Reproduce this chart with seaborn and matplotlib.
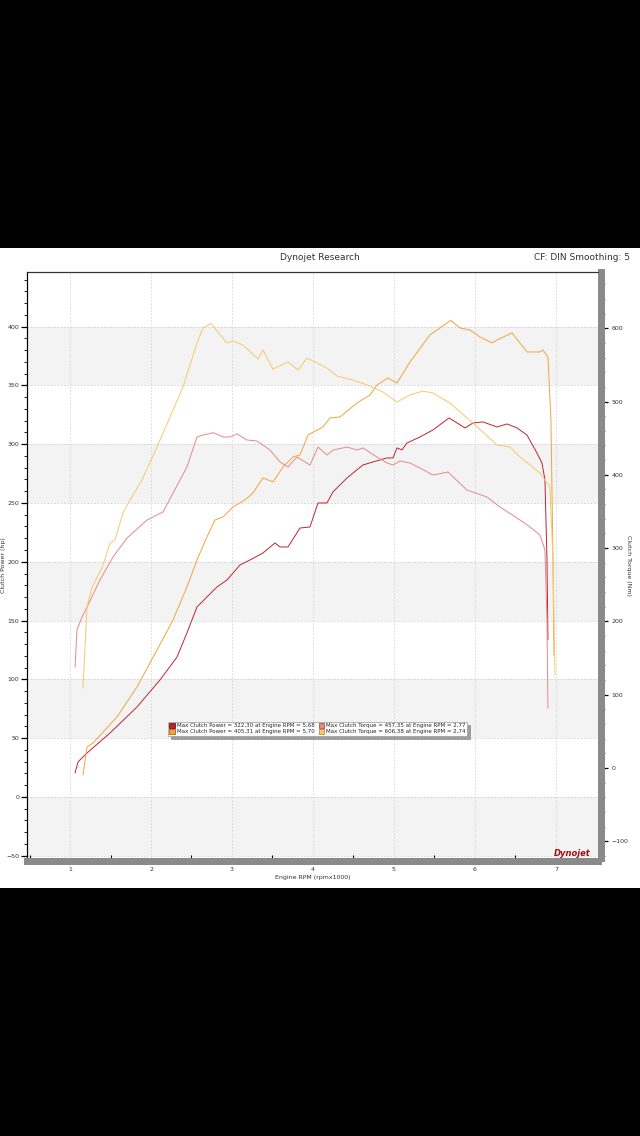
import numpy as np
import pandas as pd
import matplotlib
matplotlib.use("Agg")
import matplotlib.pyplot as plt
from matplotlib.patches import Patch, Rectangle
from matplotlib.ticker import MultipleLocator, FixedLocator
import seaborn as sns

# ---------------- data ----------------
rpm_power1 = [1.062, 1.099, 1.21, 1.494, 1.827, 2.111, 2.321, 2.444, 2.568, 2.691, 2.815, 2.938,
              3.099, 3.222, 3.383, 3.531, 3.593, 3.691, 3.840, 3.963, 4.062, 4.173, 4.247, 4.420,
              4.617, 4.741, 4.914, 4.988, 5.037, 5.099, 5.160, 5.321, 5.481, 5.68, 5.877, 5.975,
              6.099, 6.272, 6.395, 6.519, 6.642, 6.765, 6.827, 6.864, 6.889, 6.901]
hp_power1 = [20.4, 29.8, 37.4, 54.4, 76.5, 99.5, 119.0, 139.5, 161.6, 170.1, 178.6, 184.5,
             197.3, 201.5, 207.5, 216.0, 212.6, 212.6, 228.7, 229.6, 250.0, 250.0, 259.4, 271.3,
             282.3, 284.9, 288.3, 288.3, 296.8, 295.1, 301.0, 306.1, 312.1, 322.3, 313.8, 318.0,
             318.9, 314.6, 317.2, 313.8, 307.8, 292.5, 284.0, 269.6, 201.5, 133.5]

rpm_power2 = [1.160, 1.210, 1.284, 1.580, 1.827, 2.074, 2.272, 2.444, 2.568, 2.691, 2.790, 2.889,
              3.012, 3.160, 3.259, 3.383, 3.506, 3.630, 3.753, 3.840, 3.938, 4.123, 4.210, 4.333,
              4.543, 4.704, 4.790, 4.926, 5.037, 5.198, 5.444, 5.70, 5.815, 5.938, 6.062, 6.210,
              6.272, 6.457, 6.642, 6.802, 6.840, 6.901, 6.938, 6.963, 6.975]
hp_power2 = [18.7, 42.5, 45.9, 68.0, 93.5, 125.0, 150.5, 178.6, 201.5, 221.1, 235.5, 238.1,
             246.6, 252.6, 258.5, 271.3, 267.9, 280.6, 289.1, 290.8, 307.8, 314.6, 322.3, 323.1,
             335.0, 341.8, 350.3, 356.3, 352.0, 369.9, 392.9, 405.3, 398.8, 397.1, 391.2, 386.1,
             388.6, 394.6, 378.4, 378.4, 380.1, 374.1, 320.6, 201.5, 120.7]

rpm_torque1 = [1.062, 1.086, 1.148, 1.210, 1.370, 1.531, 1.704, 1.951, 2.148, 2.272, 2.358, 2.444,
               2.568, 2.642, 2.77, 2.889, 2.975, 3.062, 3.185, 3.309, 3.469, 3.593, 3.691, 3.802,
               3.963, 4.062, 4.173, 4.247, 4.420, 4.543, 4.617, 4.790, 4.914, 4.988, 5.074, 5.198,
               5.321, 5.481, 5.667, 5.901, 6.148, 6.309, 6.556, 6.679, 6.802, 6.864, 6.889, 6.901]
nm_torque1 = [137.8, 188.3, 206.0, 219.6, 256.5, 287.9, 313.8, 338.3, 349.2, 375.2, 392.9, 410.6,
              451.6, 454.3, 457.4, 451.6, 451.6, 455.7, 447.5, 446.1, 433.8, 417.5, 410.6, 424.3,
              413.4, 437.9, 427.0, 433.8, 437.9, 433.8, 436.6, 424.3, 416.1, 413.4, 418.8, 416.1,
              409.3, 399.7, 403.8, 379.3, 369.7, 356.1, 338.3, 328.8, 317.9, 297.4, 201.9, 81.9]

rpm_torque2 = [1.160, 1.210, 1.272, 1.395, 1.494, 1.556, 1.654, 1.741, 1.889, 2.074, 2.395, 2.568,
               2.642, 2.74, 2.938, 3.012, 3.136, 3.321, 3.383, 3.506, 3.691, 3.815, 3.926, 4.173,
               4.296, 4.494, 4.704, 4.864, 5.037, 5.198, 5.358, 5.481, 5.691, 5.975, 6.272, 6.432,
               6.556, 6.802, 6.926, 6.963, 6.988]
nm_torque2 = [109.1, 219.6, 246.9, 272.9, 307.0, 311.1, 347.9, 365.6, 392.9, 437.9, 519.8, 579.8,
              600.3, 606.4, 579.8, 582.5, 577.1, 558.0, 570.3, 544.3, 553.9, 543.0, 559.3, 545.7,
              534.8, 529.3, 521.1, 513.0, 499.3, 508.9, 514.3, 511.6, 497.9, 470.7, 440.7, 437.9,
              424.3, 402.5, 383.4, 283.8, 126.9]

legend_labels = [
    "Max Clutch Power = 322,30 at Engine RPM = 5,68",
    "Max Clutch Power = 405,31 at Engine RPM = 5,70",
    "Max Clutch Torque = 457,35 at Engine RPM = 2,77",
    "Max Clutch Torque = 606,38 at Engine RPM = 2,74",
]
x_ticks = [1, 2, 3, 4, 5, 6, 7]
hp_ticks = [-50, 0, 50, 100, 150, 200, 250, 300, 350, 400]
nm_ticks = [-100, 0, 100, 200, 300, 400, 500, 600]

c_red = "#bc2530"
c_orange = "#f0a43c"
c_pink = "#e38a8a"
c_yellow = "#f6c86c"

# ---------------- figure ----------------
sns.set_style("white")
plt.rcParams['font.family'] = ['DejaVu Sans']

fig = plt.figure(figsize=(6.4, 11.36), dpi=100, facecolor="black")
bg = Rectangle((0, 1 - 888 / 1136), 1, (888 - 248) / 1136,
               transform=fig.transFigure, facecolor="white", edgecolor="none", zorder=-10)
fig.patches.append(bg)

ax = fig.add_axes([27 / 640, 1 - 858 / 1136, (598 - 27) / 640, (858 - 272) / 1136])
ax.set_facecolor("white")
ax.set_xlim(0.469, 7.519)
ax.set_ylim(-51.9, 446.4)

for lo in [350, 250, 150, 50, -50]:
    ax.axhspan(lo, lo + 50, color="#f3f3f3", zorder=0, lw=0)
for yv in hp_ticks:
    ax.axhline(yv, color="#cfcfcf", lw=0.6, ls=(0, (2, 2)), zorder=0.5)
for xv in x_ticks:
    ax.axvline(xv, color="#d6d6d6", lw=0.6, ls=(0, (2, 2)), zorder=0.5)

df_p1 = pd.DataFrame({"rpm": rpm_power1, "val": hp_power1})
df_p2 = pd.DataFrame({"rpm": rpm_power2, "val": hp_power2})
df_t1 = pd.DataFrame({"rpm": rpm_torque1, "val": nm_torque1})
df_t2 = pd.DataFrame({"rpm": rpm_torque2, "val": nm_torque2})

sns.lineplot(data=df_p1, x="rpm", y="val", ax=ax, color=c_red, lw=0.7, sort=False, estimator=None)
sns.lineplot(data=df_p2, x="rpm", y="val", ax=ax, color=c_orange, lw=0.7, sort=False, estimator=None)

ax2 = ax.twinx()
ax2.set_ylim(-122.8, 676.7)
sns.lineplot(data=df_t1, x="rpm", y="val", ax=ax2, color=c_pink, lw=0.7, sort=False, estimator=None)
sns.lineplot(data=df_t2, x="rpm", y="val", ax=ax2, color=c_yellow, lw=0.7, sort=False, estimator=None)

# axes styling
ax.set_xticks(x_ticks)
ax.set_xticklabels([str(v) for v in x_ticks])
ax.xaxis.set_minor_locator(FixedLocator([0.5, 1.5, 2.5, 3.5, 4.5, 5.5, 6.5]))
ax.set_yticks(hp_ticks)
ax.yaxis.set_minor_locator(MultipleLocator(10))
ax.tick_params(axis="x", which="major", length=0, labelsize=4.5, labelcolor="#333333", pad=4)
ax.tick_params(axis="x", which="minor", length=4, width=0.8, direction="in", color="black", bottom=True)
ax.tick_params(axis="y", which="major", length=4, width=0.9, color="black", labelsize=4.5,
               labelcolor="#333333", pad=1.5, left=True)
ax.tick_params(axis="y", which="minor", length=2.5, width=0.6, color="black", left=True)

ax2.set_yticks(nm_ticks)
ax2.yaxis.set_minor_locator(MultipleLocator(20))
ax2.tick_params(axis="y", which="major", length=5, width=0.9, color="black", labelsize=4.5,
                labelcolor="#333333", pad=2, right=True)
ax2.tick_params(axis="y", which="minor", length=3, width=0.6, color="#555555", right=True)

for a in (ax, ax2):
    a.spines["top"].set_color("#333333")
    a.spines["top"].set_linewidth(0.8)
    a.spines["left"].set_color("black")
    a.spines["left"].set_linewidth(0.8)
    a.spines["bottom"].set_color("#8a8a8a")
    a.spines["bottom"].set_linewidth(5)
    a.spines["bottom"].set_position(("outward", 2.5))
    a.spines["right"].set_color("#8a8a8a")
    a.spines["right"].set_linewidth(5)
    a.spines["right"].set_position(("outward", 2.5))

ax.set_xlabel("Engine RPM (rpmx1000)", fontsize=4.5, color="#333333", labelpad=2)
ax.set_ylabel("Clutch Power (hp)", fontsize=4.5, color="#333333")
ax.yaxis.set_label_coords(-21 / 571, 0.5)
ax2.set_xlabel("")
ax2.set_ylabel("Clutch Torque (Nm)", fontsize=4.5, color="#333333", rotation=270, va="center")
ax2.yaxis.set_label_coords(1 + 30 / 571, 0.5)

# legend
handles = [
    Patch(facecolor=c_red, edgecolor="#7a1010", lw=0.6),
    Patch(facecolor=c_orange, edgecolor="#b06010", lw=0.6),
    Patch(facecolor=c_pink, edgecolor="#b05050", lw=0.6),
    Patch(facecolor=c_yellow, edgecolor="#c09030", lw=0.6),
]
leg = ax2.legend(handles, legend_labels, ncol=2, loc="upper left",
                 bbox_to_anchor=((168 - 27) / (598 - 27), (858 - 722) / (858 - 272)),
                 fontsize=4.0, frameon=True, fancybox=False, shadow=True,
                 handlelength=1.0, handleheight=0.8, handletextpad=0.3,
                 columnspacing=0.8, labelspacing=0.15, borderpad=0.25, borderaxespad=0)
leg.get_frame().set_edgecolor("#999999")
leg.get_frame().set_linewidth(0.5)

# header texts
fig.text(0.5, 1 - 257 / 1136, "Dynojet Research", ha="center", va="center",
         fontsize=6.5, color="#333333")
fig.text(630 / 640, 1 - 257 / 1136, "CF: DIN Smoothing: 5", ha="right", va="center",
         fontsize=6.5, color="#333333")
fig.text(572 / 640, 1 - 853 / 1136, "Dynojet", ha="center", va="center", fontsize=6,
         fontweight="bold", fontstyle="italic", color="#a01010")

fig.savefig("out.png", dpi=100, facecolor="black")
